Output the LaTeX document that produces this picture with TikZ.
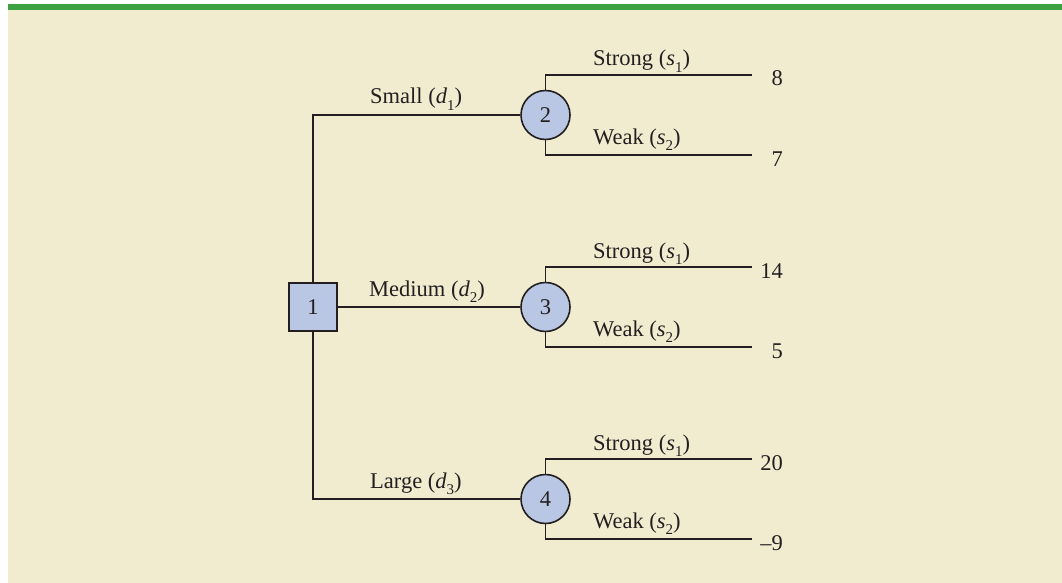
\documentclass[tikz,border=0pt]{standalone}
\usepackage{fontspec}
\setmainfont{Liberation Serif}
\definecolor{bgbeige}{RGB}{241,236,208}
\definecolor{topgreen}{RGB}{62,161,66}
\definecolor{nodeblue}{RGB}{185,199,228}
\definecolor{inkline}{RGB}{35,31,32}
\newcommand{\lowidx}[1]{\raisebox{-0.28em}{\fontsize{15}{15}\selectfont #1}}
\begin{document}
\begin{tikzpicture}[x=1pt,y=-1pt,
  every node/.style={font=\fontsize{22.5}{24}\selectfont, text=inkline},
  line/.style={draw=inkline, line width=1.6pt},
  decision/.style={draw=inkline, line width=1.6pt, fill=nodeblue, minimum size=48pt, inner sep=0pt, rectangle},
  chance/.style={draw=inkline, line width=1.6pt, fill=nodeblue, minimum size=49pt, inner sep=0pt, circle},
  lbl/.style={anchor=base west, inner sep=0pt},
  pay/.style={anchor=base east, inner sep=0pt}]
\useasboundingbox (0,0) rectangle (1062,583);
\fill[bgbeige] (8,4) rectangle (1062,583);
\fill[topgreen] (8,4) rectangle (1062,10);
% nodes
\node[decision] (n1) at (313,307) {1};
\node[chance] (n2) at (545.5,115) {2};
\node[chance] (n3) at (545.5,307) {3};
\node[chance] (n4) at (545.5,499) {4};
% end coordinates
\coordinate (e2a) at (752,75);
\coordinate (e2b) at (752,155);
\coordinate (e3a) at (752,267);
\coordinate (e3b) at (752,347);
\coordinate (e4a) at (752,459);
\coordinate (e4b) at (752,539);
% decision branches
\draw[line] (n1.north) |- (n2.west);
\draw[line] (n1.east) -- (n3.west);
\draw[line] (n1.south) |- (n4.west);
% chance branches
\draw[line] (n2.north) |- (e2a);
\draw[line] (n2.south) |- (e2b);
\draw[line] (n3.north) |- (e3a);
\draw[line] (n3.south) |- (e3b);
\draw[line] (n4.north) |- (e4a);
\draw[line] (n4.south) |- (e4b);
% decision labels
\node[lbl] (l1) at (370,104) {Small (\textit{d}\lowidx{1})};
\node[lbl] (l2) at (369,296) {Medium (\textit{d}\lowidx{2})};
\node[lbl] (l3) at (370,488) {Large (\textit{d}\lowidx{3})};
% state labels
\node[lbl] (s2a) at (593,66) {Strong (\textit{s}\lowidx{1})};
\node[lbl] (s2b) at (593,144) {Weak (\textit{s}\lowidx{2})};
\node[lbl] (s3a) at (593,258) {Strong (\textit{s}\lowidx{1})};
\node[lbl] (s3b) at (593,336) {Weak (\textit{s}\lowidx{2})};
\node[lbl] (s4a) at (593,450) {Strong (\textit{s}\lowidx{1})};
\node[lbl] (s4b) at (593,528) {Weak (\textit{s}\lowidx{2})};
% payoffs
\node[pay] (p1) at (783,86) {8};
\node[pay] (p2) at (783,166) {7};
\node[pay] (p3) at (783,278) {14};
\node[pay] (p4) at (783,358) {5};
\node[pay] (p5) at (783,470) {20};
\node[pay] (p6) at (783,550) {\textendash9};
\end{tikzpicture}
\end{document}
